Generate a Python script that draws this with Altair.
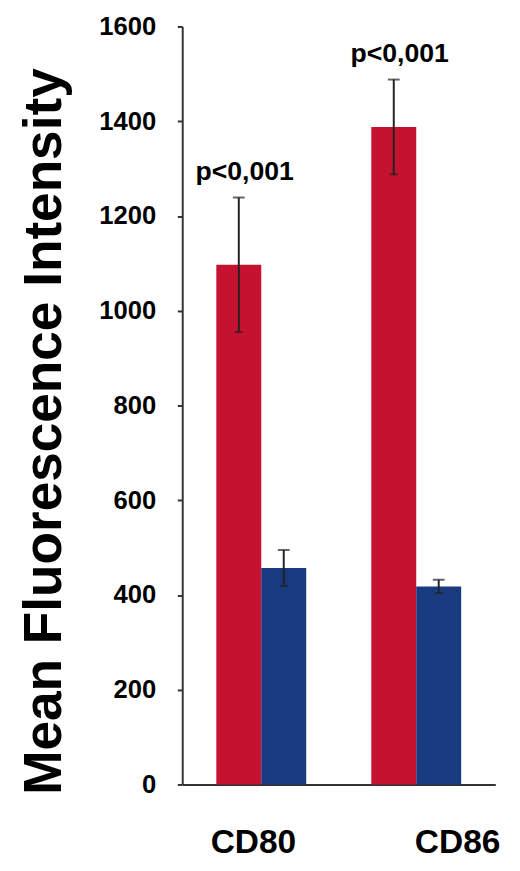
import altair as alt
import pandas as pd

markers = ["CD80", "CD86", "CD80", "CD86"]
groups = ["Group 1", "Group 1", "Group 2", "Group 2"]
means = [1097, 1388, 457, 418]
errors = [142, 100, 38, 14]
pvals = ["p<0,001", "p<0,001", "", ""]
y_ticks = [0, 200, 400, 600, 800, 1000, 1200, 1400, 1600]
group_order = ["Group 1", "Group 2"]
group_colors = ["#C41230", "#193A7E"]

df = pd.DataFrame({"marker": markers, "group": groups, "mean": means,
                   "err": errors, "p": pvals})
df["lo"] = df["mean"] - df["err"]
df["hi"] = df["mean"] + df["err"]

FONT = "Liberation Sans"
AX = "#333333"

x_enc = alt.X(
    "marker:N",
    sort=["CD80", "CD86"],
    scale=alt.Scale(paddingInner=0.42, paddingOuter=0.22),
    title=None,
    axis=alt.Axis(
        labelAngle=0, labelFont=FONT, labelFontSize=34, labelFontWeight="bold",
        labelColor="#000000", labelPadding=42, ticks=False,
        domainColor=AX, domainWidth=2,
        labelOffset={"condition": {"test": "datum.value == 'CD86'", "value": 42}, "value": -8},
    ),
)
xo_enc = alt.XOffset("group:N", sort=group_order,
                     scale=alt.Scale(paddingInner=0, paddingOuter=0))
y_scale = alt.Scale(domain=[0, 1600], nice=False, zero=True)

base = alt.Chart(df).encode(x=x_enc, xOffset=xo_enc)

bars = base.mark_bar().encode(
    y=alt.Y("mean:Q", scale=y_scale,
            axis=alt.Axis(
                values=y_ticks, format="d", grid=False, domainColor=AX, domainWidth=2,
                tickColor=AX, tickWidth=2, tickSize=5,
                labelFont=FONT, labelFontSize=26, labelFontWeight="bold",
                labelColor="#000000", labelPadding=22,
                title="Mean Fluorescence Intensity", titleFont=FONT,
                titleFontSize=54, titleFontWeight="bold", titleColor="#000000",
                titleAngle=270, titleX=-124, titleY=411, titleAlign="center",
                titleBaseline="alphabetic",
            )),
    color=alt.Color("group:N", scale=alt.Scale(domain=group_order, range=group_colors),
                    legend=None),
)

rules = base.mark_rule(color="#222222", strokeWidth=2).encode(
    y=alt.Y("lo:Q", scale=y_scale), y2="hi:Q")

caps_hi = base.mark_tick(color="#222222", thickness=2, size=12, orient="horizontal").encode(
    y=alt.Y("hi:Q", scale=y_scale))
caps_lo = base.mark_tick(color="#222222", thickness=2, size=8, orient="horizontal").encode(
    y=alt.Y("lo:Q", scale=y_scale))

texts = base.transform_filter("datum.p != ''").mark_text(
    font=FONT, fontSize=27, fontWeight="bold", color="#000000",
    baseline="alphabetic", align="center", dy=-18, dx=6,
).encode(y=alt.Y("hi:Q", scale=y_scale), text="p:N")

chart = alt.layer(bars, rules, caps_hi, caps_lo, texts).properties(
    width=318, height=770,
    autosize=alt.AutoSizeParams(type="none"),
    padding={"left": 177, "top": 12, "right": 17, "bottom": 73},
).configure_view(stroke=None)

chart.save("out.html", embed_options={"renderer": "svg", "actions": False})
